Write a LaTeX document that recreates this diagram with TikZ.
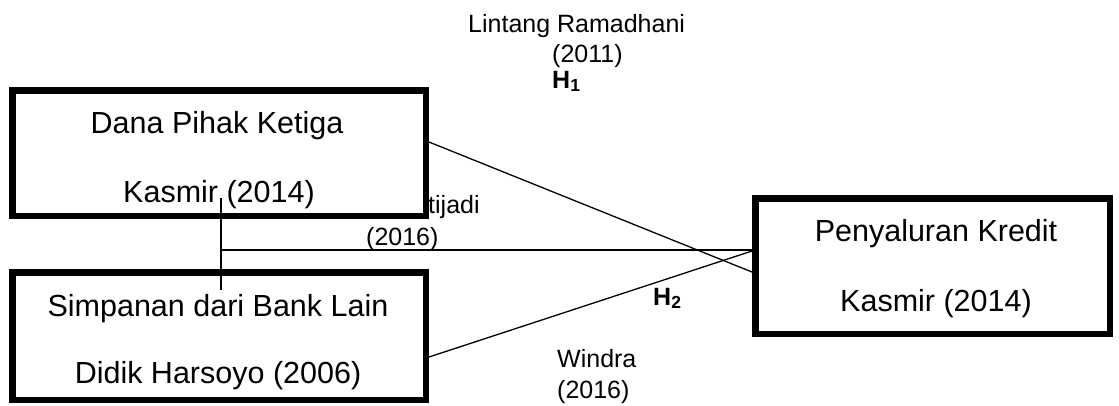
\documentclass[tikz,border=0pt]{standalone}
\usepackage{fontspec}
\setmainfont{Liberation Sans}
\begin{document}
\begin{tikzpicture}[x=1pt,y=1pt,
  box/.style={draw, line width=6.5pt, fill=white, rectangle, inner sep=0pt},
  big/.style={font=\fontsize{30.5}{36}\selectfont, inner sep=0pt, anchor=base},
  small/.style={font=\fontsize{25}{30}\selectfont, inner sep=0pt, anchor=base west},
  conn/.style={line width=1.3pt}]
\useasboundingbox (0,0) rectangle (1119,-405);

% labels outside boxes
\node[small] (lr) at (468,-32) {Lintang Ramadhani};
\node[small] (lry) at (552,-62) {(2011)};
\node[small, font=\fontsize{25}{30}\selectfont\bfseries] (h1) at (552,-88) {H\textsubscript{1}};
\node[small] (st) at (428,-213) {tijadi};
\node[small] (sty) at (366,-245) {(2016)};
\node[small, font=\fontsize{25}{30}\selectfont\bfseries] (h2) at (653,-305) {H\textsubscript{2}};
\node[small] (wi) at (557,-367) {Windra};
\node[small] (wiy) at (557,-398) {(2016)};

% boxes
\node[box, minimum width=413.5pt, minimum height=125.5pt] (dpk) at (219,-153) {};
\node[box, minimum width=413.5pt, minimum height=127.5pt] (sbl) at (219,-336) {};
\node[box, minimum width=354.5pt, minimum height=135.5pt] (pk) at (932.5,-266) {};

\node[big] (dpk1) at (217,-133) {Dana Pihak Ketiga};
\node[big] (dpk2) at (219,-202) {Kasmir (2014)};
\node[big] (sbl1) at (218,-316) {Simpanan dari Bank Lain};
\node[big] (sbl2) at (218,-383) {Didik Harsoyo (2006)};
\node[big] (pk1) at (936,-241) {Penyaluran Kredit};
\node[big] (pk2) at (936,-311) {Kasmir (2014)};

% connectors
\coordinate (vt) at (221,-198);
\coordinate (vb) at (221,-290);
\coordinate (hj) at (221,-250);
\draw[conn] (vt) -- (vb);
\draw[conn] (hj) -- (hj -| pk.west);
\draw[conn] ([yshift=11pt]dpk.east) -- ([yshift=-6pt]pk.west);
\draw[conn] ([yshift=-21pt]sbl.east) -- ([yshift=15pt]pk.west);
\end{tikzpicture}
\end{document}
